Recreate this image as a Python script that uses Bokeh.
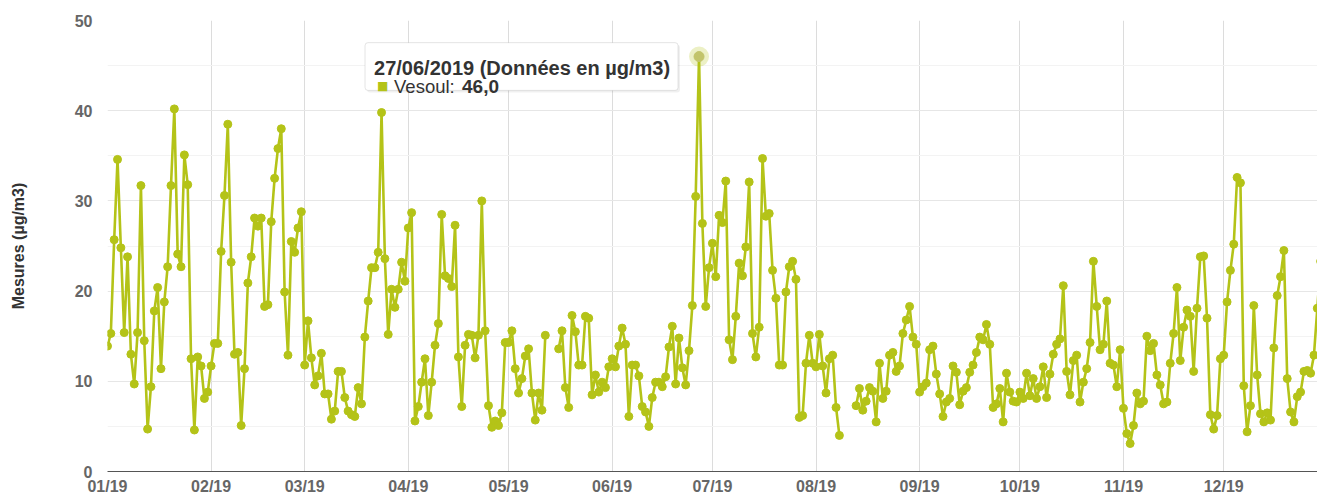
import numpy as np
import pandas as pd
from bokeh.plotting import figure
from bokeh.models import (FixedTicker, DatetimeTickFormatter, BoxAnnotation, Label,
                          Range1d, ColumnDataSource)
from bokeh.embed import file_html
from bokeh.resources import INLINE

# ---------------- data (daily values, µg/m3, None = no measure) ----------------
jan = [13.9, 15.3, 25.7, 34.6, 24.8, 15.4, 23.8, 13.0, 9.7, 15.4, 31.7, 14.5, 4.7, 9.4, 17.8, 20.4,
       11.4, 18.8, 22.7, 31.7, 40.2, 24.1, 22.7, 35.1, 31.8, 12.5, 4.6, 12.7, 11.7, 8.1, 8.8]
feb = [11.7, 14.2, 14.2, 24.4, 30.6, 38.5, 23.2, 13.0, 13.2, 5.1, 11.4, 20.9, 23.8, 28.1, 27.2, 28.1,
       18.3, 18.5, 27.7, 32.5, 35.8, 38.0, 19.9, 12.9, 25.5, 24.3, 27.0, 28.8]
mar = [11.8, 16.7, 12.6, 9.6, 10.6, 13.1, 8.6, 8.6, 5.8, 6.7, 11.1, 11.1, 8.2, 6.7, 6.3, 6.1,
       9.3, 7.5, 14.9, 18.9, 22.6, 22.6, 24.3, 39.8, 23.6, 15.2, 20.2, 18.2, 20.2, 23.2, 21.1]
apr = [27.0, 28.7, 5.6, 7.2, 9.9, 12.5, 6.2, 9.9, 14.0, 16.4, 28.5, 21.7, 21.4, 20.5, 27.3, 12.7,
       7.2, 14.0, 15.2, 15.1, 12.6, 15.1, 30.0, 15.6, 7.3, 4.9, 5.6, 5.1, 6.5, 14.3]
may = [14.3, 15.6, 11.4, 8.7, 10.3, 12.8, 13.6, 8.7, 5.7, 8.7, 6.8, 15.1, None, None, None, 13.6,
       15.6, 9.3, 7.1, 17.3, 15.5, 11.8, 11.8, 17.2, 17.0, 8.5, 10.7, 8.8, 9.9, 9.3, 11.6]
jun = [12.5, 11.6, 13.9, 15.9, 14.1, 6.1, 11.8, 11.8, 10.6, 7.2, 6.6, 5.0, 8.2, 9.9, 9.9, 9.4,
       10.5, 13.8, 16.1, 9.7, 14.8, 11.5, 9.6, 13.4, 18.4, 30.5, 46.0, 27.5, 18.3, 22.6]
jul = [25.3, 21.6, 28.4, 27.6, 32.2, 14.6, 12.4, 17.2, 23.1, 21.7, 24.9, 32.1, 15.3, 12.7, 16.0, 34.7,
       28.3, 28.6, 22.3, 19.2, 11.8, 11.8, 19.9, 22.7, 23.3, 21.3, 6.0, 6.2, 12.0, 15.1, 12.0]
aug = [11.6, 15.2, 11.7, 8.7, 12.5, 12.9, 7.1, 4.0, None, None, None, None, 7.3, 9.2, 6.8, 7.8,
       9.3, 8.9, 5.5, 12.0, 8.1, 8.9, 12.9, 13.2, 11.1, 11.7, 15.3, 16.8, 18.3, 14.9, 14.1]
sep = [8.8, 9.4, 9.8, 13.5, 13.9, 10.8, 8.6, 6.1, 7.7, 8.1, 11.7, 11.0, 7.4, 8.9, 9.3, 11.0,
       11.8, 13.2, 14.9, 14.6, 16.3, 14.1, 7.1, 7.5, 9.2, 5.5, 10.9, 8.8, 7.8, 7.7]
oct_ = [8.8, 8.1, 10.9, 8.4, 10.3, 8.1, 9.4, 11.6, 8.2, 10.8, 13.0, 14.1, 14.7, 20.6, 11.1, 8.5,
        12.3, 12.9, 7.7, 9.9, 11.4, 14.3, 23.3, 18.3, 13.5, 14.1, 18.9, 12.0, 11.8, 9.4, 13.5]
nov = [7.0, 4.2, 3.1, 5.1, 8.7, 7.5, 7.8, 15.0, 13.4, 14.2, 10.7, 9.6, 7.5, 7.7, 12.0, 15.3,
       20.4, 12.3, 16.0, 17.9, 17.2, 11.1, 18.1, 23.8, 23.9, 17.0, 6.3, 4.7, 6.2, 12.5]
dec = [12.9, 18.8, 22.3, 25.2, 32.6, 32.0, 9.5, 4.4, 7.3, 18.4, 10.7, 6.4, 5.5, 6.5, 5.7, 13.7,
       19.5, 21.6, 24.5, 10.3, 6.6, 5.5, 8.3, 8.8, 11.1, 11.2, 10.9, 12.9, 18.1, 23.3]

month_labels = ["01/19", "02/19", "03/19", "04/19", "05/19", "06/19",
                "07/19", "08/19", "09/19", "10/19", "11/19", "12/19"]
y_ticks = [0, 10, 20, 30, 40, 50]
y_minor = [5, 15, 25, 35, 45]
station = "Vesoul"
y_title = "Mesures (µg/m3)"
tip_suffix = "(Données en µg/m3)"

# ---------------- build ----------------
values = [np.nan if v is None else v for m in
          [jan, feb, mar, apr, may, jun, jul, aug, sep, oct_, nov, dec] for v in m]
dates = pd.date_range("2019-01-01", periods=len(values), freq="D")
src = ColumnDataSource(dict(x=dates, y=values))

COLOR = "#b4c318"
W, H = 1317, 497
BL, BT, BB = 107, 20, 24
FRAME_W, FRAME_H = W - BL, H - BT - BB
x0 = pd.Timestamp("2019-01-01")
x1 = x0 + pd.Timedelta(days=FRAME_W / 3.342)

p = figure(width=W, height=H, x_axis_type="datetime", output_backend="svg",
           toolbar_location=None, x_range=Range1d(x0, x1), y_range=Range1d(0, 50),
           min_border_left=BL, min_border_right=0, min_border_top=BT, min_border_bottom=BB)
p.outline_line_color = None
p.background_fill_color = "white"

month_starts = pd.date_range("2019-01-01", periods=12, freq="MS")
p.xaxis.ticker = FixedTicker(ticks=[t.value / 1e6 for t in month_starts])
p.xaxis.formatter = DatetimeTickFormatter(
    milliseconds="%m/%y", seconds="%m/%y", minsec="%m/%y", minutes="%m/%y",
    hourmin="%m/%y", hours="%m/%y", days="%m/%y", months="%m/%y", years="%m/%y",
    strip_leading_zeros=False)
p.yaxis.ticker = FixedTicker(ticks=y_ticks, minor_ticks=y_minor)

for ax in (p.xaxis, p.yaxis):
    ax.major_label_text_font = "Liberation Sans"
    ax.major_label_text_font_style = "bold"
    ax.major_label_text_font_size = "16px"
    ax.major_label_text_color = "#666666"
    ax.major_tick_line_color = None
    ax.minor_tick_line_color = None
    ax.major_tick_out = 0
    ax.major_tick_in = 0
    ax.minor_tick_out = 0
    ax.minor_tick_in = 0

p.xaxis.axis_line_color = "#555555"
p.xaxis.axis_line_width = 1
p.xaxis.major_label_standoff = 6
p.yaxis.axis_line_color = None
p.yaxis.major_label_standoff = 15
p.yaxis.axis_label = y_title
p.yaxis.axis_label_text_font = "Liberation Sans"
p.yaxis.axis_label_text_font_style = "bold"
p.yaxis.axis_label_text_font_size = "16px"
p.yaxis.axis_label_text_color = "#333333"
p.yaxis.axis_label_standoff = 45

p.xgrid.grid_line_color = "#dcdcdc"
p.ygrid.grid_line_color = "#e6e6e6"
p.ygrid.minor_grid_line_color = "#f3f3f3"

p.line("x", "y", source=src, line_color=COLOR, line_width=2.6)
p.scatter("x", "y", source=src, size=8, fill_color=COLOR, line_color=COLOR)

# hovered point + tooltip, anchored to the maximum
arr = np.array(values, dtype=float)
imax = int(np.nanargmax(arr))
px_x = pd.Timestamp(dates[imax])
px_y = arr[imax]
p.scatter([px_x], [px_y], size=20, fill_color=COLOR, fill_alpha=0.25, line_color=None)
p.scatter([px_x], [px_y], size=10, fill_color="#c2c46a", line_color="#c2c46a")

ms_per_px = (x1 - x0) / FRAME_W
u_per_px = 50 / FRAME_H

def dx(px):
    return px_x + ms_per_px * px

def dy(px):
    return px_y + u_per_px * px

shadow = BoxAnnotation(left=dx(-332), right=dx(-19), top=dy(12), bottom=dy(-36),
                       fill_color="black", fill_alpha=0.06, line_color=None,
                       border_radius=3, level="overlay")
box = BoxAnnotation(left=dx(-334), right=dx(-21), top=dy(14), bottom=dy(-34),
                    fill_color="white", fill_alpha=1.0, line_color="#a8a8a8",
                    line_width=1, border_radius=3, level="overlay")
p.add_layout(shadow)
p.add_layout(box)

title_txt = dates[imax].strftime("%d/%m/%Y") + " " + tip_suffix
val_txt = f"{px_y:.1f}".replace(".", ",")
common = dict(x=px_x, y=px_y, text_font="Liberation Sans", text_color="#333333",
              text_baseline="alphabetic", level="overlay")
p.add_layout(Label(text=title_txt, x_offset=-325, y_offset=-11, text_font_size="20px",
                   text_font_style="bold", **common))
p.add_layout(Label(text="■", x=px_x, y=px_y, x_offset=-322, y_offset=-29, text_font="DejaVu Sans",
                   text_font_size="12px", text_color=COLOR, text_baseline="alphabetic",
                   level="overlay"))
p.add_layout(Label(text=station + ":", x_offset=-305, y_offset=-30, text_font_size="18.5px",
                   **common))
p.add_layout(Label(text=val_txt, x_offset=-237, y_offset=-30, text_font_size="19px",
                   text_font_style="bold", **common))

open("out.html", "w").write(file_html(p, INLINE))
